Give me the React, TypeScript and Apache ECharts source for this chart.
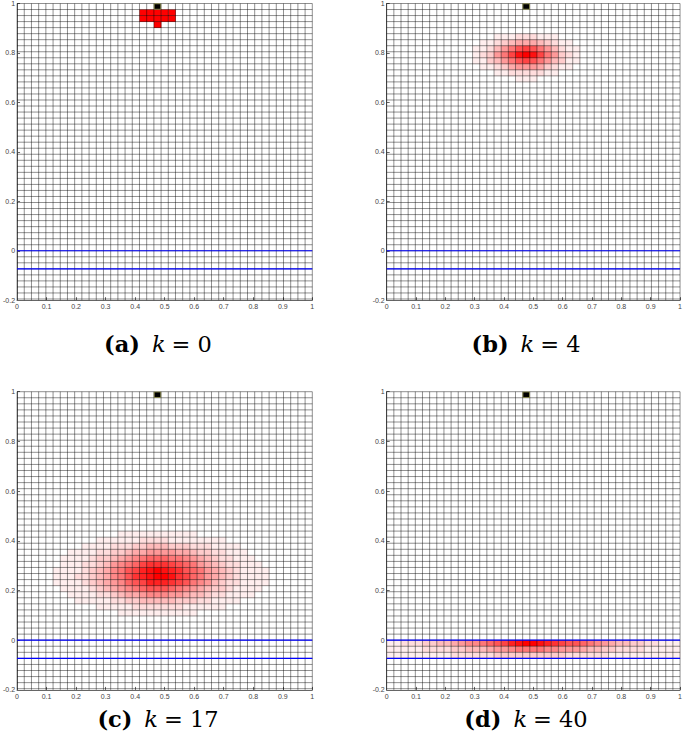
import React, { useEffect, useRef } from "react";
import * as echarts from "echarts";

// ---------- data ----------
const N_CELLS = 41; // cells per unit length (mesh)
const N_ROW_LINES = 50; // horizontal mesh lines from y=1 downwards
const X_TICKS = ["0", "0.1", "0.2", "0.3", "0.4", "0.5", "0.6", "0.7", "0.8", "0.9", "1"];
const Y_TICKS = ["-0.2", "0", "0.2", "0.4", "0.6", "0.8", "1"];
const PANEL_LETTERS = ["a", "b", "c", "d"];
const K_VALUES = [0, 4, 17, 40];
const MARKER_CELL = [19, 0]; // [column, row] of the black square
const BLUE_LEVELS = [0, -0.0732];

// probability mass per cell, hex level 0..f (f = full red); origin = [column, row] of first char
const ORIGIN_A = [17, 1];
const MASS_A = ["fffff", "fffff", "00f00"];

const ORIGIN_B = [11, 5];
const MASS_B = [
  "00001112221110000",
  "00112345554321100",
  "0112468aba8642110",
  "012368befeb863210",
  "0113468aba8643110",
  "00112356665321100",
  "00001122222110000",
  "00000001110000000",
];

const ORIGIN_C = [4, 23];
const MASS_C = [
  "0000000000" + "1111111111" + "1000000000" + "0000",
  "0000000111" + "1112222111" + "1111100000" + "0000",
  "0000011112" + "2233444333" + "2221111000" + "0000",
  "0001111223" + "3455666655" + "4332211100" + "0000",
  "0011112334" + "5678999887" + "6543221110" + "0000",
  "0011122346" + "789bcccba9" + "8654322111" + "0000",
  "0111123457" + "8abdefedca" + "9865432111" + "1000",
  "0111223457" + "8acdeffecb" + "9865432111" + "1000",
  "0111123456" + "79abdddcba" + "8764322111" + "1000",
  "0011112345" + "6789aaa987" + "6543321111" + "0000",
  "0001111223" + "4556777665" + "4432211110" + "0000",
  "0000111112" + "2334444433" + "3221111000" + "0000",
  "0000000111" + "1122222221" + "1111100000" + "0000",
  "0000000000" + "1111111111" + "1000000000" + "0000",
];

const ORIGIN_D = [0, 41];
const MASS_D = [
  "1122233445" + "67789abdef" + "fedcbaa987" + "6544332211" + "1",
  "1111122223" + "3444566788" + "8877666544" + "3322221111" + "1",
  "1111111112" + "2222233333" + "3333322222" + "2111111111" + "1",
];

const PANEL_MASS = [MASS_A, MASS_B, MASS_C, MASS_D];
const PANEL_ORIGIN = [ORIGIN_A, ORIGIN_B, ORIGIN_C, ORIGIN_D];

// ---------- layout ----------
const GRID_POS = [
  { left: 13.3, top: 2.4, width: 299, height: 297.8 },
  { left: 386.7, top: 2.6, width: 300, height: 297.6 },
  { left: 13.3, top: 391.7, width: 299, height: 298.2 },
  { left: 386.7, top: 391.7, width: 300, height: 298.2 },
];
const CAPTION_POS = [
  [158, 344],
  [526, 344],
  [158, 719],
  [526, 719],
];

function buildCells(mass: string[], origin: number[]) {
  const out: number[][] = [];
  mass.forEach((rowStr, ri) => {
    for (let ci = 0; ci < rowStr.length; ci++) {
      const v = parseInt(rowStr[ci], 16);
      if (v > 0) {
        const col = origin[0] + ci;
        const row = origin[1] + ri;
        out.push([(col + 0.5) / N_CELLS, 1 - (row + 0.5) / N_CELLS, v]);
      }
    }
  });
  return out;
}

const cellRender = (_p: any, api: any) => {
  const x = api.value(0);
  const y = api.value(1);
  const v = api.value(2);
  const h = 0.5 / N_CELLS;
  const p0 = api.coord([x - h, y + h]);
  const p1 = api.coord([x + h, y - h]);
  const g = Math.round(255 * (1 - v / 15));
  return {
    type: "rect",
    shape: { x: p0[0], y: p0[1], width: p1[0] - p0[0] + 0.3, height: p1[1] - p0[1] + 0.3 },
    style: { fill: `rgb(255,${g},${g})` },
  };
};

const MESH_STYLE = { stroke: "#000", lineWidth: 0.8, opacity: 0.55 };

const vLineRender = (_p: any, api: any) => {
  const x = api.value(0);
  const p0 = api.coord([x, 1]);
  const p1 = api.coord([x, -0.2]);
  return {
    type: "line",
    shape: { x1: p0[0], y1: p0[1], x2: p1[0], y2: p1[1] },
    style: MESH_STYLE,
  };
};

const hLineRender = (_p: any, api: any) => {
  const y = api.value(1);
  const p0 = api.coord([0, y]);
  const p1 = api.coord([1, y]);
  return {
    type: "line",
    shape: { x1: p0[0], y1: p0[1], x2: p1[0], y2: p1[1] },
    style: MESH_STYLE,
  };
};

const blueRender = (_p: any, api: any) => {
  const y = api.value(1);
  const p0 = api.coord([0, y]);
  const p1 = api.coord([1, y]);
  return {
    type: "line",
    shape: { x1: p0[0], y1: p0[1], x2: p1[0], y2: p1[1] },
    style: { stroke: "#0000ff", lineWidth: 1.2 },
  };
};

const markerRender = (_p: any, api: any) => {
  const x = api.value(0);
  const y = api.value(1);
  const h = 0.5 / N_CELLS;
  const p0 = api.coord([x - h, y + h]);
  const p1 = api.coord([x + h, y - h]);
  return {
    type: "rect",
    shape: { x: p0[0] + 0.3, y: p0[1] + 0.3, width: p1[0] - p0[0] - 0.6, height: p1[1] - p0[1] - 0.6 },
    style: { fill: "#000", stroke: "#8c8c46", lineWidth: 0.8 },
  };
};

export default function App() {
  const ref = useRef<HTMLDivElement>(null);

  useEffect(() => {
    if (!ref.current) return;
    const chart = echarts.init(ref.current, undefined, { renderer: "svg" });

    const vLines = Array.from({ length: N_CELLS + 1 }, (_, i) => [i / N_CELLS, 0.4]);
    const hLines = Array.from({ length: N_ROW_LINES }, (_, j) => [0.5, 1 - j / N_CELLS]);
    const blue = BLUE_LEVELS.map((y) => [0.5, y]);
    const marker = [[(MARKER_CELL[0] + 0.5) / N_CELLS, 1 - (MARKER_CELL[1] + 0.5) / N_CELLS]];

    const series: any[] = [];
    PANEL_LETTERS.forEach((_, i) => {
      const axes = { xAxisIndex: i, yAxisIndex: i };
      series.push({ type: "custom", ...axes, z: 1, renderItem: cellRender, data: buildCells(PANEL_MASS[i], PANEL_ORIGIN[i]) });
      series.push({ type: "custom", ...axes, z: 2, renderItem: vLineRender, data: vLines });
      series.push({ type: "custom", ...axes, z: 2, renderItem: hLineRender, data: hLines });
      series.push({ type: "custom", ...axes, z: 3, renderItem: blueRender, data: blue });
      series.push({ type: "custom", ...axes, z: 4, renderItem: markerRender, data: marker });
    });

    const labelFont = { fontSize: 7, color: "#444", fontFamily: "Liberation Sans" };

    chart.setOption({
      animation: false,
      backgroundColor: "#fff",
      grid: GRID_POS.map((g) => ({ ...g, containLabel: false })),
      xAxis: PANEL_LETTERS.map((_, i) => ({
        type: "value",
        gridIndex: i,
        min: 0,
        max: 1,
        interval: 0.1,
        splitLine: { show: false },
        axisLine: { show: true, onZero: false, lineStyle: { color: "#666", width: 1 } },
        axisTick: { show: true, inside: true, length: 3, lineStyle: { color: "#666" } },
        axisLabel: { ...labelFont, margin: 3, formatter: (v: number) => X_TICKS[Math.round(v * 10)] },
      })),
      yAxis: PANEL_LETTERS.map((_, i) => ({
        type: "value",
        gridIndex: i,
        min: -0.2,
        max: 1,
        interval: 0.2,
        splitLine: { show: false },
        axisLine: { show: true, onZero: false, lineStyle: { color: "#666", width: 1 } },
        axisTick: { show: true, inside: true, length: 3, lineStyle: { color: "#666" } },
        axisLabel: { ...labelFont, margin: 2, formatter: (v: number) => Y_TICKS[Math.round((v + 0.2) / 0.2)] },
      })),
      series,
      graphic: PANEL_LETTERS.map((L, i) => ({
        type: "text",
        x: CAPTION_POS[i][0],
        y: CAPTION_POS[i][1],
        style: {
          text: `{b|(${L})}{i|k}{r|= ${K_VALUES[i]}}`,
          align: "center",
          verticalAlign: "middle",
          rich: {
            b: { fontFamily: "DejaVu Serif", fontWeight: "bold", fontSize: 22.5, fill: "#000" },
            i: { fontFamily: "DejaVu Serif", fontStyle: "italic", fontSize: 22.5, fill: "#000", padding: [0, 0, 0, 12] },
            r: { fontFamily: "DejaVu Serif", fontSize: 22.5, fill: "#000", padding: [0, 0, 0, 6] },
          },
        },
      })),
    });

    return () => chart.dispose();
  }, []);

  return (
    <div
      ref={ref}
      style={{ position: "absolute", left: 0, top: 0, width: 685, height: 745, background: "#fff" }}
    />
  );
}
